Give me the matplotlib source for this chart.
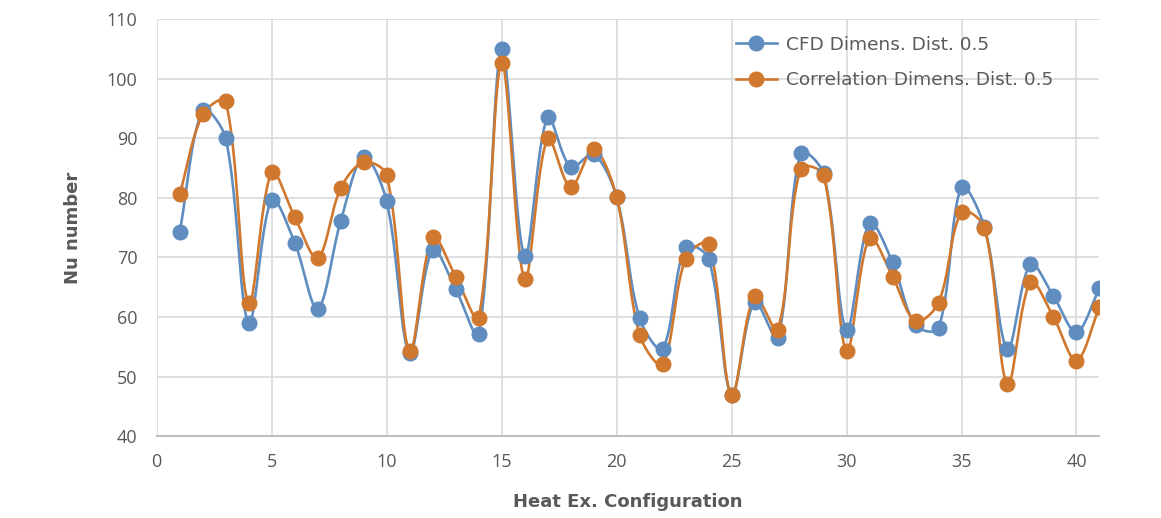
import numpy as np
import matplotlib.pyplot as plt

# data
config = list(range(1, 42))
cfd_nu = [74.3, 94.7, 90.0, 59.0, 79.7, 72.5, 61.4, 76.1, 86.9, 79.4,
          53.9, 71.3, 64.7, 57.1, 105.0, 70.2, 93.5, 85.2, 87.3, 80.1,
          59.8, 54.7, 71.8, 69.8, 46.9, 62.5, 56.5, 87.5, 84.1, 57.9,
          75.8, 69.2, 58.6, 58.1, 81.8, 75.1, 54.7, 68.9, 63.5, 57.5,
          64.8]
corr_nu = [80.6, 94.0, 96.2, 62.3, 84.3, 76.8, 69.9, 81.6, 86.0, 83.8,
           54.3, 73.4, 66.8, 59.9, 102.6, 66.3, 90.0, 81.8, 88.2, 80.1,
           57.0, 52.1, 69.8, 72.3, 46.9, 63.5, 57.9, 84.9, 83.8, 54.3,
           73.3, 66.8, 59.3, 62.4, 77.6, 75.0, 48.7, 65.9, 60.0, 52.7,
           61.7]

labels = ["CFD Dimens. Dist. 0.5", "Correlation Dimens. Dist. 0.5"]
colors = ["#5f8dc0", "#d0782e"]
GREY = "#595959"

# approx. pixels per data unit, so the smoothing works in screen space
PX_X = 22.9
PX_Y = 5.96


def smooth(x, y, n=30, k=0.5):
    # Excel-like smoothing: bezier segments, tangents weighted by chord length
    p = np.column_stack([np.asarray(x, float) * PX_X, np.asarray(y, float) * PX_Y])
    m = len(p)
    out = []
    t = np.linspace(0, 1, n)[:, None]
    for i in range(m - 1):
        a, b = p[i], p[i + 1]
        prev = p[i - 1] if i > 0 else a
        nxt = p[i + 2] if i + 2 < m else b
        dab = np.linalg.norm(b - a)
        d0 = np.linalg.norm(a - prev)
        d2 = np.linalg.norm(nxt - b)
        c1 = a + (b - prev) * dab / (d0 + dab) * k * 2 / 3 if d0 > 0 else a + (b - a) / 3
        c2 = b - (nxt - a) * dab / (dab + d2) * k * 2 / 3 if d2 > 0 else b - (b - a) / 3
        seg = (1 - t) ** 3 * a + 3 * (1 - t) ** 2 * t * c1 + 3 * (1 - t) * t ** 2 * c2 + t ** 3 * b
        out.append(seg)
    out = np.vstack(out)
    return out[:, 0] / PX_X, out[:, 1] / PX_Y


fig = plt.figure(figsize=(11.61, 5.18), dpi=100)
ax = fig.add_axes([0.135, 0.158, 0.812, 0.805])

for yvals, lab, col in zip([cfd_nu, corr_nu], labels, colors):
    sx, sy = smooth(config, yvals)
    ax.plot(sx, sy, color=col, linewidth=1.9, zorder=3)
    ax.plot(config, yvals, linestyle="none", marker="o", markersize=10.5,
            color=col, zorder=4)
    ax.plot([], [], color=col, linewidth=1.9, marker="o", markersize=10.5,
            label=lab)

ax.set_xlim(0, 41)
ax.set_ylim(40, 110)
ax.set_xticks(range(0, 41, 5))
ax.set_yticks(range(40, 111, 10))
ax.grid(True, color="#d9d9d9", linewidth=1.2)
ax.set_axisbelow(True)

for s in ["top", "right", "left"]:
    ax.spines[s].set_visible(False)
ax.spines["bottom"].set_color("#bfbfbf")
ax.spines["bottom"].set_linewidth(1.5)

ax.tick_params(length=0, labelsize=13, colors=GREY, pad=12)
ax.tick_params(axis="y", pad=14)
for lbl in ax.get_xticklabels() + ax.get_yticklabels():
    lbl.set_family(["Liberation Sans Narrow", "Open Sans"])

ax.set_xlabel("Heat Ex. Configuration", fontsize=13, fontweight="bold",
              color=GREY, labelpad=16)
ax.set_ylabel("Nu number", fontsize=13, fontweight="bold", color=GREY,
              labelpad=18)

leg = ax.legend(loc="upper left", bbox_to_anchor=(0.597, 1.0), frameon=False,
                fontsize=13.3, labelspacing=0.95, handlelength=2.2,
                handletextpad=0.5)
for t in leg.get_texts():
    t.set_color(GREY)

fig.savefig("out.png", dpi=100)
